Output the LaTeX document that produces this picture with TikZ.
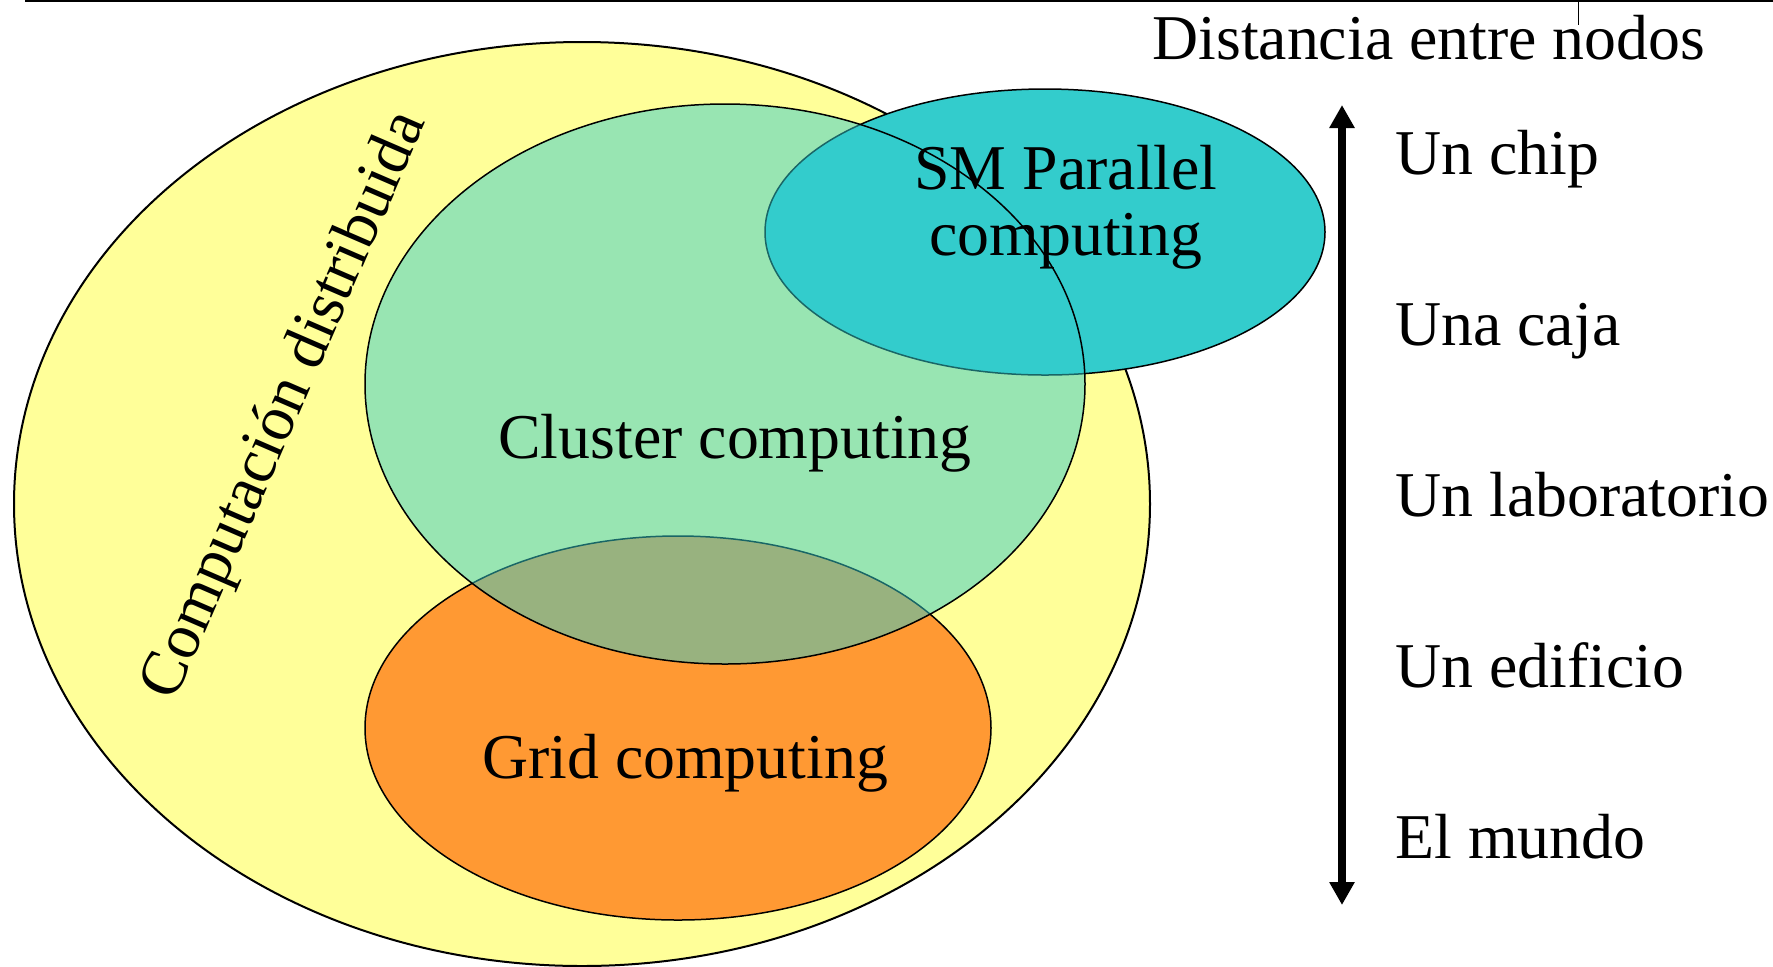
\documentclass[tikz,border=0pt]{standalone}
\usepackage{fontspec}
\setmainfont{Liberation Serif}
\usetikzlibrary{arrows.meta}

\definecolor{distamarillo}{HTML}{FFFF99}
\definecolor{smcian}{HTML}{33CCCC}
\definecolor{gridnaranja}{HTML}{FF9933}

\newcommand{\letragrande}{\fontsize{31.9}{33.2}\selectfont}

\begin{document}
\begin{tikzpicture}[x=0.5pt,y=-0.5pt,
    area/.style={draw=black, line width=0.75pt},
    rotulo/.style={font=\letragrande, inner sep=0pt},
    escala/.style={rotulo, anchor=base west}]

      \useasboundingbox (0,0) rectangle (1773,966);

      % linea de arriba
      \draw[line width=1pt] (25,1) -- (1773,1);
      \draw[line width=0.5pt] (1578,0) -- (1578,25);

      % conjuntos
      \draw[area, fill=distamarillo, line width=1pt] (582,504) ellipse [x radius=568, y radius=462];
      \draw[area, fill=smcian] (1045,232) ellipse [x radius=280, y radius=143];
      \draw[area, fill=gridnaranja] (678,728) ellipse [x radius=313, y radius=192];
      \draw[area, fill=smcian, fill opacity=0.5] (725,384) ellipse [x radius=360, y radius=280];

      \node[rotulo, rotate=66.6] (distrib) at (286,406) {Computación distribuida};
      \node[rotulo, anchor=base] (cluster) at (735,458) {Cluster computing};
      \node[rotulo, anchor=base] (grid) at (685,778) {Grid computing};
      \node[rotulo, align=center] (smp) at (1066,207) {SM Parallel\\computing};

      % escala de distancias
      \node[escala] (titulo) at (1152,59) {Distancia entre nodos};
      \foreach \txt/\nm [count=\i from 0] in {Un chip/chip, Una caja/caja, Un laboratorio/lab, Un edificio/edificio, El mundo/mundo}
        \node[escala] (\nm) at (1395,{174+171*\i}) {\txt};

      \coordinate (arriba) at (1342,105);
      \coordinate (abajo) at (1342,905);
      \draw[line width=4pt, {Triangle[width=12pt,length=11.5pt]}-{Triangle[width=12pt,length=11.5pt]}] (abajo) -- (arriba);

    \end{tikzpicture}
\end{document}
